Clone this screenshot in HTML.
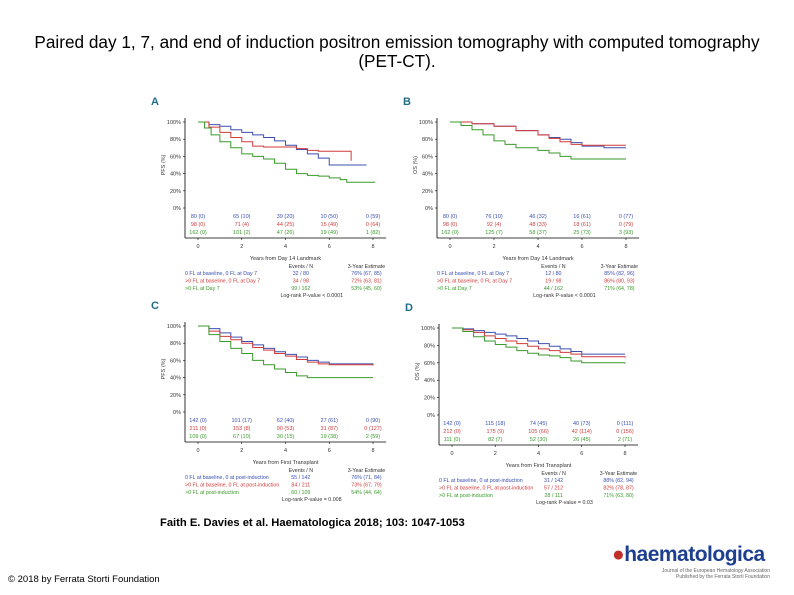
<!DOCTYPE html>
<html><head><meta charset="utf-8"><style>
body{margin:0;width:794px;height:595px;background:#fff;font-family:"Liberation Sans",sans-serif;position:relative;overflow:hidden}
.t{position:absolute;left:0;width:794px;text-align:center;font-size:17.2px;color:#000;top:33px;line-height:19px}
svg{position:absolute;left:0;top:0}
</style></head><body>
<div class="t">Paired day 1, 7, and end of induction positron emission tomography with computed tomography<br>(PET-CT).</div>
<svg id="s" width="794" height="595"></svg>
<script>
const ns="http://www.w3.org/2000/svg";
const svg=document.getElementById('s');
const colors=["#3b4fb0","#d23a3a","#3a9a2a"];
const yTicks=["0%","20%","40%","60%","80%","100%"];
const xTicks=[0,2,4,6,8];
// Panel A (PFS, Day 14 landmark)
const aTimes=[[0,0.5,1,1.5,2,2.5,3,3.5,4,4.5,5,5.5,6,7.7],[0,0.5,1,1.5,2,2.5,3,4,4.5,5,5.5,6,7],[0,0.3,0.6,1,1.5,2,2.5,3,3.5,4,4.5,5,5.5,6,6.5,6.8,8.1]];
const aSurv=[[100,97,95,91,88,85,82,78,73,68,63,58,50,50],[100,94,88,82,77,72,71,71,69,67,66,66,55],[100,93,85,77,70,63,60,57,52,45,40,38,37,35,33,30,30]];
// Panel B (OS)
const bTimes=[[0,1,2,3,4,4.5,5,5.5,6,7,8],[0,1,2,3,4,4.5,5,5.5,6,8],[0,0.5,1,1.5,2,2.5,3,4,4.5,5,5.5,6,8]];
const bSurv=[[100,98,95,90,85,82,80,76,72,70,70],[100,98,95,90,85,81,77,74,73,73],[100,96,91,85,78,74,70,67,64,60,57,57,57]];
// Panel C (PFS, first transplant)
const cTimes=[[0,0.5,1,1.5,2,2.5,3,3.5,4,4.5,5,5.5,6,8],[0,0.5,1,1.5,2,2.5,3,3.5,4,4.5,5,5.5,6,8],[0,0.5,1,1.5,2,2.5,3,3.5,4,4.5,5,5.5,8]];
const cSurv=[[100,97,92,87,82,78,74,70,67,64,60,58,56,55],[100,94,88,84,80,75,72,68,65,61,58,56,55,54],[100,90,82,74,68,60,55,50,46,42,40,40,40]];
// Panel D (OS, first transplant)
const dTimes=[[0,0.5,1,1.5,2,2.5,3,3.5,4,4.5,5,5.5,6,8],[0,0.5,1,1.5,2,2.5,3,3.5,4,4.5,5,5.5,6,8],[0,0.5,1,1.5,2,2.5,3,3.5,4,4.5,5,5.5,6,8]];
const dSurv=[[100,99,97,95,93,91,88,85,82,79,76,73,70,70],[100,98,95,91,88,85,82,79,76,74,72,70,67,66],[100,96,90,85,81,78,74,71,69,68,66,62,60,59]];
const aRisk=[["80 (0)","65 (10)","39 (20)","10 (50)","0 (59)"],["98 (0)","71 (4)","44 (25)","15 (49)","0 (64)"],["162 (0)","101 (2)","47 (26)","19 (49)","1 (82)"]];
const bRisk=[["80 (0)","76 (10)","46 (32)","16 (61)","0 (77)"],["98 (0)","92 (4)","48 (33)","18 (61)","0 (79)"],["162 (0)","125 (7)","58 (37)","25 (73)","3 (93)"]];
const cRisk=[["142 (0)","101 (17)","62 (40)","27 (61)","0 (90)"],["211 (0)","153 (8)","90 (53)","31 (87)","0 (127)"],["109 (0)","67 (10)","30 (15)","19 (38)","2 (59)"]];
const dRisk=[["142 (0)","115 (18)","74 (45)","40 (73)","0 (111)"],["212 (0)","175 (9)","105 (66)","42 (114)","0 (156)"],["111 (0)","82 (7)","52 (30)","26 (45)","2 (71)"]];
const aLeg=["0 FL at baseline, 0 FL at Day 7",">0 FL at baseline, 0 FL at Day 7",">0 FL at Day 7"];
const cLeg=["0 FL at baseline, 0 at post-induction",">0 FL at baseline, 0 FL at post-induction",">0 FL at post-induction"];
const aEv=["32 / 80","34 / 98","99 / 162"],aEst=["76% (67, 85)","72% (63, 81)","53% (45, 60)"];
const bEv=["12 / 80","19 / 98","44 / 162"],bEst=["85% (82, 96)","86% (80, 93)","71% (64, 78)"];
const cEv=["55 / 142","84 / 211","60 / 109"],cEst=["76% (71, 84)","73% (67, 79)","54% (44, 64)"];
const dEv=["31 / 142","57 / 212","28 / 111"],dEst=["88% (82, 94)","82% (78, 87)","71% (63, 80)"];

function el(t,a,txt){const e=document.createElementNS(ns,t);for(const k in a)e.setAttribute(k,a[k]);if(txt!==undefined)e.textContent=txt;svg.appendChild(e);return e;}
function panel(p){
  const X=v=>p.x0+(p.x8-p.x0)*v/8, Y=v=>p.y0-(p.y0-p.y100)*v/100;
  let t=el('text',{x:p.x0-47,y:p.y100-17,'font-size':11,'font-weight':'bold',fill:'#1e6f86'},p.label);
  
  
  const ax=p.x0-13, base=p.y0+30;
  let l=el('line',{x1:ax,y1:p.y100-4,x2:ax,y2:base,stroke:'#000','stroke-width':0.8});
  
  l=el('line',{x1:ax,y1:base,x2:X(8.6),y2:base,stroke:'#000','stroke-width':0.8});
  
  yTicks.forEach((s,i)=>{const y=Y(i*20);
    el('line',{x1:ax-2,y1:y,x2:ax,y2:y,stroke:'#000','stroke-width':0.6});
    const tt=el('text',{x:ax-4,y:y+2,'font-size':5.5,'text-anchor':'end',fill:'#333'},s);
    });
  xTicks.forEach(v=>{const x=X(v);
    el('line',{x1:x,y1:base,x2:x,y2:base+2,stroke:'#000','stroke-width':0.6});
    const tt=el('text',{x:x,y:base+10,'font-size':5.5,'text-anchor':'middle',fill:'#333'},v);
    });
  let yt=el('text',{x:0,y:0,'font-size':5.5,'text-anchor':'middle',fill:'#333',transform:`translate(${ax-20},${Y(50)}) rotate(-90)`},p.ylab);
  
  let xt=el('text',{x:X(4),y:base+22,'font-size':5.5,'text-anchor':'middle',fill:'#333'},p.xlab);
  
  p.times.forEach((ts,si)=>{
    let d=`M${X(ts[0])},${Y(p.surv[si][0])}`;
    for(let i=1;i<ts.length;i++){d+=`H${X(ts[i])}V${Y(p.surv[si][i])}`;}
    const path=el('path',{d:d,fill:'none',stroke:colors[si],'stroke-width':1});
    
    
    p.risk[si].forEach((s,i)=>{const tt=el('text',{x:X(xTicks[i]),y:p.y0+10+si*8,'font-size':5.5,'text-anchor':'middle',fill:colors[si]},s);
      });
    const ly=base+37+si*7.5;
    let a=el('text',{x:ax,y:ly,'font-size':5.3,fill:colors[si]},p.leg[si]);
    
    a=el('text',{x:X(4.7),y:ly,'font-size':5.3,'text-anchor':'middle',fill:colors[si]},p.ev[si]);
    
    a=el('text',{x:X(7.7),y:ly,'font-size':5.3,'text-anchor':'middle',fill:colors[si]},p.est[si]);
    
  });
  let h=el('text',{x:X(4.7),y:base+30,'font-size':5.3,'text-anchor':'middle',fill:'#333'},'Events / N');
  
  h=el('text',{x:X(7.7),y:base+30,'font-size':5.3,'text-anchor':'middle',fill:'#333'},'3-Year Estimate');
  
  h=el('text',{x:X(5.2),y:base+59,'font-size':5.3,'text-anchor':'middle',fill:'#333'},p.pv);
  
}
panel({label:'A',x0:198,x8:373,y100:122,y0:208,times:aTimes,surv:aSurv,risk:aRisk,leg:aLeg,ev:aEv,est:aEst,ylab:'PFS (%)',xlab:'Years from Day 14 Landmark',pv:'Log-rank P-value < 0.0001'});
panel({label:'B',x0:450,x8:626,y100:122,y0:208,times:bTimes,surv:bSurv,risk:bRisk,leg:aLeg,ev:bEv,est:bEst,ylab:'OS (%)',xlab:'Years from Day 14 Landmark',pv:'Log-rank P-value < 0.0001'});
panel({label:'C',x0:198,x8:373,y100:326,y0:412,times:cTimes,surv:cSurv,risk:cRisk,leg:cLeg,ev:cEv,est:cEst,ylab:'PFS (%)',xlab:'Years from First Transplant',pv:'Log-rank P-value = 0.008'});
panel({label:'D',x0:452,x8:625,y100:328,y0:415,times:dTimes,surv:dSurv,risk:dRisk,leg:cLeg,ev:dEv,est:dEst,ylab:'OS (%)',xlab:'Years from First Transplant',pv:'Log-rank P-value = 0.03'});
</script>
<div style="position:absolute;left:160px;top:517px;font-size:11.2px;font-weight:bold;white-space:nowrap">Faith E. Davies et al. Haematologica 2018; 103: 1047-1053</div>
<div style="position:absolute;left:8px;top:574px;font-size:9.5px">© 2018 by Ferrata Storti Foundation</div>
<div style="position:absolute;left:612px;top:543px;font-size:21px;font-weight:bold;color:#1c3f8f;letter-spacing:-0.5px"><span style="color:#c0302a">●</span>haematologica</div>
<div style="position:absolute;left:630px;top:568px;font-size:5px;color:#666;line-height:6px;text-align:right;width:140px">Journal of the European Hematology Association<br>Published by the Ferrata Storti Foundation</div>
</body></html>
